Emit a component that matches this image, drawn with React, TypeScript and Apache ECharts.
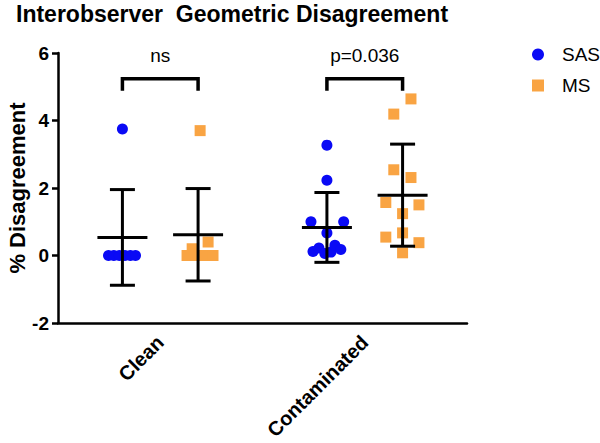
import React, { useEffect, useRef } from "react";
import * as echarts from "echarts";

// Categories and series
const categories = ["Clean", "Contaminated"];
const seriesNames = ["SAS", "MS"];

// Values (% disagreement)
const cleanSAS = [3.75, 0, 0, 0, 0, 0, 0];
const cleanMS = [3.7, 0.4, 0.2, 0, 0, 0, 0];
const contSAS = [3.27, 2.23, 1.0, 1.0, 0.67, 0.12, 0.22, 0.06, 0.1, 0.3, 0.18];
const contMS = [4.64, 4.19, 2.54, 2.31, 1.57, 1.5, 1.24, 0.67, 0.545, 0.38, 0.08];

// Horizontal jitter of each point (fraction of a category band)
const cleanSASJitter = [0, -0.068, -0.042, -0.015, 0.012, 0.039, 0.064];
const cleanMSJitter = [0.01, 0.049, -0.029, -0.054, -0.011, 0.031, 0.073];
const contSASJitter = [0, 0, -0.078, 0.082, 0, -0.068, -0.039, -0.01, 0.02, 0.039, 0.068];
const contMSJitter = [0.041, -0.043, -0.043, 0.041, -0.082, 0.08, 0, 0, -0.082, 0.08, 0];

// Significance annotations
const bracketLabels = ["ns", "p=0.036"];
const bracketTop = [5.24, 5.24];
const bracketBottom = [4.88, 4.88];
const bracketText = [5.92, 5.92];

// Y axis ticks
const yMin = -2;
const yMax = 6;
const yStep = 2;

const seriesOffset = [-0.185, 0.185];
const colors = ["#0a0af5", "#f9a443"];
const symbols = ["circle", "rect"];

const mean = (a: number[]) => a.reduce((s, v) => s + v, 0) / a.length;
const sd = (a: number[]) => {
  const m = mean(a);
  return Math.sqrt(a.reduce((s, v) => s + (v - m) * (v - m), 0) / (a.length - 1));
};

const FONT = "Liberation Sans, Arial, Helvetica, sans-serif";

export default function App() {
  const ref = useRef<HTMLDivElement>(null);
  useEffect(() => {
    if (!ref.current) return;
    const chart = echarts.init(ref.current, null, { renderer: "svg" });

    const groups = [
      [cleanSAS, contSAS],
      [cleanMS, contMS],
    ];
    const jitters = [
      [cleanSASJitter, contSASJitter],
      [cleanMSJitter, contMSJitter],
    ];

    const scatterSeries = seriesNames.map((name, si) => {
      const data: number[][] = [];
      categories.forEach((_, ci) => {
        groups[si][ci].forEach((v, k) => {
          data.push([ci + 0.5 + seriesOffset[si] + jitters[si][ci][k], v]);
        });
      });
      return {
        name,
        type: "scatter",
        xAxisIndex: 1,
        yAxisIndex: 0,
        symbol: symbols[si],
        symbolSize: 11,
        itemStyle: { color: colors[si], opacity: 1 },
        data,
        z: 2,
      };
    });

    const errData: number[][] = [];
    seriesNames.forEach((_, si) => {
      categories.forEach((__, ci) => {
        const arr = groups[si][ci];
        errData.push([ci + 0.5 + seriesOffset[si], mean(arr), sd(arr)]);
      });
    });

    const lineStyle = { stroke: "#000", lineWidth: 3 };

    const errSeries = {
      type: "custom",
      xAxisIndex: 1,
      yAxisIndex: 0,
      z: 5,
      clip: false,
      silent: true,
      encode: { x: 0, y: 1 },
      data: errData,
      renderItem: (params: any, api: any) => {
        const x = api.value(0);
        const m = api.value(1);
        const s = api.value(2);
        const c = api.coord([x, m]);
        const t = api.coord([x, m + s]);
        const b = api.coord([x, m - s]);
        return {
          type: "group",
          children: [
            { type: "line", shape: { x1: c[0], y1: t[1], x2: c[0], y2: b[1] }, style: lineStyle },
            { type: "line", shape: { x1: c[0] - 12.5, y1: t[1], x2: c[0] + 12.5, y2: t[1] }, style: lineStyle },
            { type: "line", shape: { x1: c[0] - 12.5, y1: b[1], x2: c[0] + 12.5, y2: b[1] }, style: lineStyle },
            { type: "line", shape: { x1: c[0] - 25, y1: c[1], x2: c[0] + 25, y2: c[1] }, style: lineStyle },
          ],
        };
      },
    };

    const bracketData = categories.map((_, ci) => [
      ci + 0.5 + seriesOffset[0],
      ci + 0.5 + seriesOffset[1],
      bracketTop[ci],
      bracketBottom[ci],
      bracketText[ci],
      ci,
    ]);

    const bracketSeries = {
      type: "custom",
      xAxisIndex: 1,
      yAxisIndex: 0,
      z: 6,
      clip: false,
      silent: true,
      encode: { x: [0, 1], y: [2, 3] },
      data: bracketData,
      renderItem: (params: any, api: any) => {
        const x1 = api.value(0);
        const x2 = api.value(1);
        const yt = api.value(2);
        const yb = api.value(3);
        const ytx = api.value(4);
        const idx = api.value(5);
        const p1 = api.coord([x1, yb]);
        const p2 = api.coord([x1, yt]);
        const p3 = api.coord([x2, yt]);
        const p4 = api.coord([x2, yb]);
        const pt = api.coord([(x1 + x2) / 2, ytx]);
        return {
          type: "group",
          children: [
            {
              type: "polyline",
              shape: { points: [p1, p2, p3, p4] },
              style: { stroke: "#000", lineWidth: 3.5, fill: "none", lineJoin: "miter" },
            },
            {
              type: "text",
              x: pt[0],
              y: pt[1],
              style: {
                text: bracketLabels[idx],
                fill: "#000",
                font: `19px ${FONT}`,
                align: "center",
                verticalAlign: "middle",
              },
            },
          ],
        };
      },
    };

    chart.setOption({
      animation: false,
      backgroundColor: "#fff",
      title: {
        text: "Interobserver  Geometric Disagreement",
        left: 11,
        top: -3,
        textStyle: { fontFamily: FONT, fontSize: 23, fontWeight: "bold", color: "#000" },
      },
      legend: {
        orient: "vertical",
        left: 527,
        top: 40,
        itemWidth: 12,
        itemHeight: 12,
        itemGap: 12,
        data: seriesNames.map((n, i) => ({ name: n, icon: symbols[i] })),
        textStyle: { fontFamily: FONT, fontSize: 19, color: "#000", padding: [0, 0, 0, 13] },
      },
      grid: {
        left: 58,
        right: 133,
        top: 53,
        bottom: 120,
        containLabel: false,
        outerBoundsMode: "none",
      },
      xAxis: [
        {
          type: "category",
          data: categories,
          boundaryGap: true,
          axisLine: { onZero: false, lineStyle: { color: "#000", width: 2.5 } },
          axisTick: { show: false },
          axisLabel: {
            rotate: 45,
            margin: 16,
            color: "#000",
            fontFamily: FONT,
            fontSize: 20,
            fontWeight: "bold",
          },
          splitLine: { show: false },
        },
        { type: "value", min: 0, max: 2, show: false },
      ],
      yAxis: {
        type: "value",
        min: yMin,
        max: yMax,
        interval: yStep,
        name: "% Disagreement",
        nameLocation: "middle",
        nameGap: 30,
        nameMoveOverlap: false,
        nameTextStyle: { fontFamily: FONT, fontSize: 22, fontWeight: "bold", color: "#000" },
        axisLine: { show: true, lineStyle: { color: "#000", width: 2.5 } },
        axisTick: { show: true, length: 6, lineStyle: { color: "#000", width: 2.5 } },
        axisLabel: { margin: 9, color: "#000", fontFamily: FONT, fontSize: 19, fontWeight: "bold" },
        splitLine: { show: false },
      },
      series: [...scatterSeries, errSeries, bracketSeries],
    });
    return () => chart.dispose();
  }, []);
  return (
    <div
      ref={ref}
      style={{ position: "fixed", left: 0, top: 0, width: 600, height: 443 }}
    />
  );
}
